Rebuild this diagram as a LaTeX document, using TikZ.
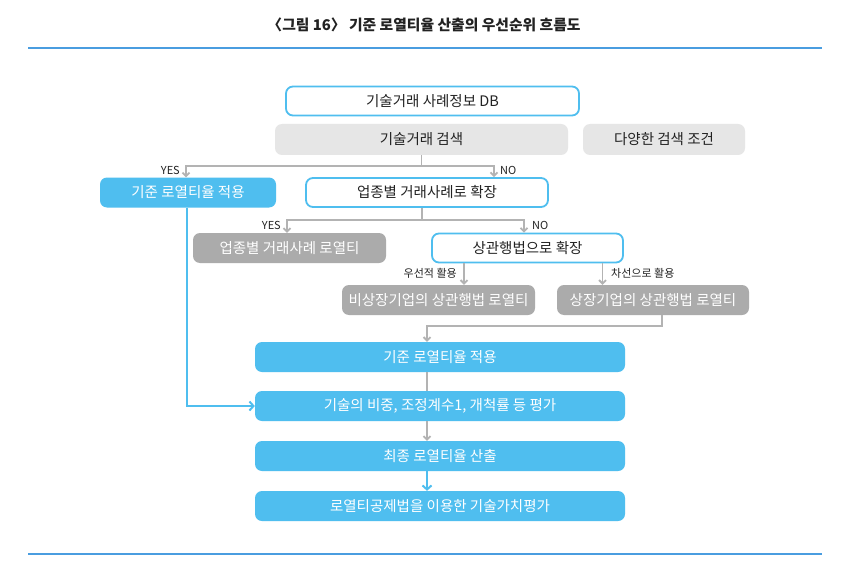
\documentclass[tikz,border=0pt]{standalone}
\usepackage{fontspec}
\setmainfont{Noto Sans CJK KR}
\usetikzlibrary{arrows.meta}
\definecolor{bl}{HTML}{4FBEEF}
\definecolor{rulec}{HTML}{4A9DE0}
\definecolor{lg}{HTML}{E6E6E6}
\definecolor{dg}{HTML}{ABABAB}
\definecolor{gl}{HTML}{B3B3B3}
\definecolor{tx}{HTML}{222222}
\begin{document}
\begin{tikzpicture}[x=1pt,y=-1pt,
  box/.style={rounded corners=7pt, minimum height=30pt, inner sep=0pt, font=\fontsize{14.5}{17}\selectfont},
  wbox/.style={box, draw=bl, line width=1.8pt, fill=white, text=tx, minimum height=29pt},
  gbox/.style={box, fill=lg, text=tx, minimum height=31pt},
  dbox/.style={box, fill=dg, text=white},
  bbox/.style={box, fill=bl, text=white},
  lab/.style={font=\fontsize{11}{13}\selectfont, text=tx, inner sep=0pt},
  gline/.style={draw=gl, line width=1.8pt},
  garrow/.style={gline, -{Straight Barb[length=3.5pt,width=7pt]}},
  barrow/.style={draw=bl, line width=2pt, -{Straight Barb[length=4pt,width=9pt]}},
  rulel/.style={draw=rulec, line width=2.5pt}]
\useasboundingbox (0,0) rectangle (858,580);
\fill[white] (0,0) rectangle (858,580);
% title and rules
\node[font=\fontsize{14.8}{17}\selectfont\bfseries, text=tx] (title) at (424,25) {〈그림 16〉 기준 로열티율 산출의 우선순위 흐름도};
\coordinate (r1a) at (28,48); \coordinate (r1b) at (822,48);
\coordinate (r2a) at (28,554); \coordinate (r2b) at (822,554);
\draw[rulel] (r1a) -- (r1b);
\draw[rulel] (r2a) -- (r2b);
% boxes
\node[wbox, minimum width=293pt] (db) at (432.5,101) {기술거래 사례정보 DB};
\node[gbox, minimum width=293pt] (search) at (421.5,139.5) {기술거래 검색};
\node[gbox, minimum width=162pt] (cond) at (664,139.5) {다양한 검색 조건};
\node[bbox, minimum width=176pt] (kijun1) at (188,192.5) {기준 로열티율 적용};
\node[wbox, minimum width=242pt] (expand) at (427,192.5) {업종별 거래사례로 확장};
\node[dbox, minimum width=193pt] (indroy) at (289.5,248) {업종별 거래사례 로열티};
\node[wbox, minimum width=191pt] (corr) at (527.5,248) {상관행법으로 확장};
\node[dbox, minimum width=193pt] (unlisted) at (438.5,300) {비상장기업의 상관행법 로열티};
\node[dbox, minimum width=192pt] (listed) at (653,300) {상장기업의 상관행법 로열티};
\node[bbox, minimum width=370pt] (kijun2) at (440,357) {기준 로열티율 적용};
\node[bbox, minimum width=370pt] (eval) at (440,406) {기술의 비중, 조정계수1, 개척률 등 평가};
\node[bbox, minimum width=370pt] (final) at (440,456) {최종 로열티율 산출};
\node[bbox, minimum width=370pt] (dcf) at (440,506) {로열티공제법을 이용한 기술가치평가};
% helper x positions
\coordinate (j1) at (421.5,166);
\coordinate (xa) at (186,0);
\coordinate (xb) at (494,0);
\coordinate (xe) at (422,0);
\coordinate (j2) at (422,220);
\coordinate (xd) at (287,0);
\coordinate (xf) at (524,0);
\coordinate (xg) at (464,0);
\coordinate (xh) at (602.5,0);
\coordinate (xl) at (662,0);
\coordinate (xc) at (427,0);
\coordinate (xk) at (187,0);
% connectors
\draw[gline] (search.south) -- (j1);
\draw[garrow] (j1) -| (kijun1.north -| xa);
\draw[garrow] (j1) -| (expand.north -| xb);
\node[lab, anchor=east] (yes1) at (180,170) {YES};
\node[lab, anchor=west] (no1) at (500,170) {NO};
\draw[gline] (expand.south -| xe) -- (j2);
\draw[garrow] (j2) -| (indroy.north -| xd);
\draw[garrow] (j2) -| (corr.north -| xf);
\node[lab, anchor=east] (yes2) at (281,225) {YES};
\node[lab, anchor=west] (no2) at (532,225) {NO};
\draw[garrow] (corr.south -| xg) -- (unlisted.north -| xg);
\draw[garrow] (corr.south -| xh) -- (listed.north -| xh);
\node[lab, anchor=east] (pri) at (457,273) {우선적 활용};
\node[lab, anchor=west] (sec) at (611,273) {차선으로 활용};
\draw[garrow] (listed.south -| xl) -- ++(0,11) -| (kijun2.north -| xc);
\draw[gline] (kijun2.south -| xc) -- (eval.north -| xc);
\draw[garrow] (eval.south -| xc) -- (final.north -| xc);
\draw[barrow] (final.south -| xc) -- (dcf.north -| xc);
\draw[barrow] (kijun1.south -| xk) |- (eval.west);
\end{tikzpicture}
\end{document}
